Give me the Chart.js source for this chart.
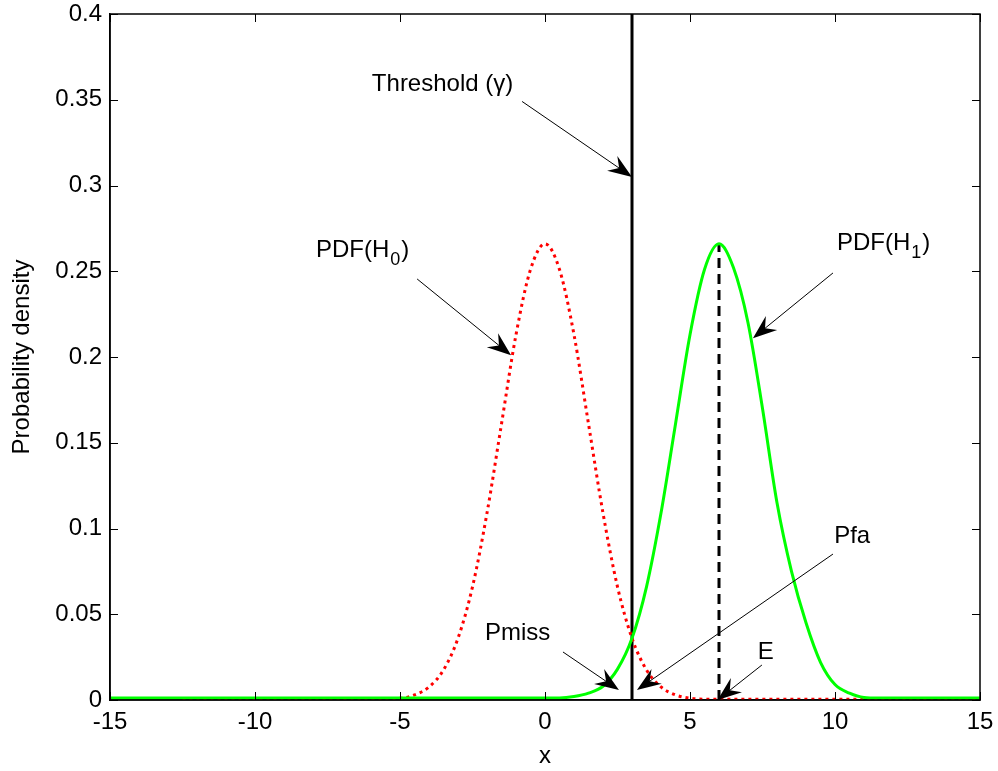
<!DOCTYPE html>
<html>
<head>
<meta charset="utf-8">
<title>Probability density</title>
<script src="https://cdn.jsdelivr.net/npm/chart.js@4.4.1/dist/chart.umd.min.js"></script>
<style>
  html, body { margin: 0; padding: 0; background: #fff; }
  canvas { display: block; }
</style>
</head>
<body>
<canvas id="pdfChart" width="998" height="771"></canvas>
<script>
// x grid shared by both densities
const xGrid = [
  -15, -14.5, -14, -13.5, -13, -12.5, -12, -11.5, -11, -10.5,
  -10, -9.5, -9, -8.5, -8, -7.5, -7, -6.5, -6, -5.5,
  -5, -4.5, -4, -3.5, -3, -2.5, -2, -1.5, -1, -0.5,
  0, 0.5, 1, 1.5, 2, 2.5, 3, 3.5, 4, 4.5,
  5, 5.5, 6, 6.5, 7, 7.5, 8, 8.5, 9, 9.5,
  10, 10.5, 11, 11.5, 12, 12.5, 13, 13.5, 14, 14.5, 15
];

// density under H0 (noise only)
const pdfH0 = [
  null, null, null, null, null, 0.0008, 0.0008, 0.0008, 0.0008, 0.0008,
  0.0008, 0.0008, 0.0008, 0.0008, 0.0008, 0.0008, 0.0008, 0.0008, 0.0008, 0.0008,
  0.001, 0.003, 0.0076, 0.0175, 0.036, 0.066, 0.109, 0.161, 0.213, 0.251,
  0.266, 0.251, 0.213, 0.161, 0.109, 0.066, 0.036, 0.0175, 0.0076, 0.003,
  0.001, 0.0005, 0.0005, 0.0005, 0.0005, 0.0005, 0.0005, 0.0005, 0.0005, 0.0005,
  0.0005, 0.0005, 0.0005, 0.0005, 0.0005, 0.0005, 0.0005, 0.0005, 0.0005, 0.0005, 0.0005
];

// density under H1 (signal present)
const pdfH1 = [
  0.0012, 0.0012, 0.0012, 0.0012, 0.0012, 0.0012, 0.0012, 0.0012, 0.0012, 0.0012,
  0.0012, 0.0012, 0.0012, 0.0012, 0.0012, 0.0012, 0.0012, 0.0012, 0.0012, 0.0012,
  0.0012, 0.0012, 0.0012, 0.0012, 0.0012, 0.0012, 0.0012, 0.0012, 0.0012, 0.0012,
  0.0012, 0.0012, 0.002, 0.004, 0.008, 0.018, 0.036, 0.066, 0.109, 0.161,
  0.213, 0.251, 0.266, 0.252, 0.22, 0.17, 0.115, 0.075, 0.045, 0.022,
  0.009, 0.004, 0.0015, 0.0012, 0.0012, 0.0012, 0.0012, 0.0012, 0.0012, 0.0012, 0.0012
];

const xTicks = [-15, -10, -5, 0, 5, 10, 15];
const yTicks = [0, 0.05, 0.1, 0.15, 0.2, 0.25, 0.3, 0.35, 0.4];

const thresholdX = 3;      // gamma
const meanH1 = 6;          // E
const peakH1 = 0.266;

// text labels with arrows, all in data units
const notes = [
  { text: 'Threshold (\u03b3)', sub: '', tail: '', tx: -5.97, ty: 0.359, from: [-0.79, 0.349], to: [thresholdX, 0.305] },
  { text: 'PDF(H', sub: '0', tail: ')', tx: -7.9, ty: 0.262, from: [-4.41, 0.2455], to: [-1.17, 0.201] },
  { text: 'PDF(H', sub: '1', tail: ')', tx: 10.07, ty: 0.266, from: [9.93, 0.249], to: [7.17, 0.211] },
  { text: 'Pfa', sub: '', tail: '', tx: 9.97, ty: 0.0956, from: [9.93, 0.0851], to: [3.17, 0.0058] },
  { text: 'Pmiss', sub: '', tail: '', tx: -2.07, ty: 0.0388, from: [0.62, 0.028], to: [2.55, 0.0058] },
  { text: 'E', sub: '', tail: '', tx: 7.34, ty: 0.028, from: [7.48, 0.0204], to: [meanH1 - 0.05, 0] }
];

const FONT = '"Liberation Sans", Arial, Helvetica, sans-serif';

function toPoints(xs, ys) {
  return xs.map((x, i) => ({ x: x, y: ys[i] }));
}

// inner ticks, box outline and the annotation arrows
const boxAndNotes = {
  id: 'boxAndNotes',
  afterDatasetsDraw(chart) {
    const ctx = chart.ctx;
    const a = chart.chartArea;
    const sx = chart.scales.x;
    const sy = chart.scales.y;
    const tl = 8;

    ctx.save();
    ctx.strokeStyle = '#000';
    ctx.lineWidth = 1;
    ctx.beginPath();
    xTicks.forEach(v => {
      const px = Math.round(sx.getPixelForValue(v)) + 0.5;
      ctx.moveTo(px, a.bottom); ctx.lineTo(px, a.bottom - tl);
      ctx.moveTo(px, a.top); ctx.lineTo(px, a.top + tl);
    });
    yTicks.forEach(v => {
      const py = Math.round(sy.getPixelForValue(v)) + 0.5;
      ctx.moveTo(a.left, py); ctx.lineTo(a.left + tl, py);
      ctx.moveTo(a.right, py); ctx.lineTo(a.right - tl, py);
    });
    ctx.stroke();

    ctx.lineWidth = 1.5;
    ctx.strokeRect(a.left, a.top, a.right - a.left, a.bottom - a.top);

    notes.forEach(n => {
      const x0 = sx.getPixelForValue(n.from[0]);
      const y0 = sy.getPixelForValue(n.from[1]);
      const x1 = sx.getPixelForValue(n.to[0]);
      const y1 = sy.getPixelForValue(n.to[1]);
      const len = Math.hypot(x1 - x0, y1 - y0);
      const ux = (x1 - x0) / len, uy = (y1 - y0) / len;
      const nx = -uy, ny = ux;
      const L = 24, W = 9;

      ctx.lineWidth = 1;
      ctx.beginPath();
      ctx.moveTo(x0, y0);
      ctx.lineTo(x1 - ux * L * 0.6, y1 - uy * L * 0.6);
      ctx.stroke();

      // concave arrow head
      ctx.fillStyle = '#000';
      ctx.beginPath();
      ctx.moveTo(x1, y1);
      ctx.lineTo(x1 - ux * L + nx * W, y1 - uy * L + ny * W);
      ctx.lineTo(x1 - ux * L * 0.65, y1 - uy * L * 0.65);
      ctx.lineTo(x1 - ux * L - nx * W, y1 - uy * L - ny * W);
      ctx.closePath();
      ctx.fill();

      // label, with an optional subscript
      let tx = sx.getPixelForValue(n.tx);
      const ty = sy.getPixelForValue(n.ty);
      ctx.textBaseline = 'middle';
      ctx.textAlign = 'left';
      ctx.font = '24px ' + FONT;
      ctx.fillText(n.text, tx, ty);
      tx += ctx.measureText(n.text).width;
      if (n.sub) {
        ctx.font = '18px ' + FONT;
        ctx.fillText(n.sub, tx + 1, ty + 9);
        tx += ctx.measureText(n.sub).width + 2;
        ctx.font = '24px ' + FONT;
      }
      if (n.tail) ctx.fillText(n.tail, tx, ty);
    });
    ctx.restore();
  }
};

new Chart(document.getElementById('pdfChart'), {
  type: 'scatter',
  data: {
    datasets: [
      {
        label: 'PDF(H1)',
        data: toPoints(xGrid, pdfH1),
        showLine: true,
        borderColor: '#00ff00',
        borderWidth: 3,
        pointRadius: 0,
        cubicInterpolationMode: 'monotone'
      },
      {
        label: 'PDF(H0)',
        data: toPoints(xGrid, pdfH0),
        showLine: true,
        spanGaps: false,
        borderColor: '#ff0000',
        borderWidth: 3,
        borderDash: [3, 4],
        pointRadius: 0,
        cubicInterpolationMode: 'monotone'
      },
      {
        label: 'Threshold',
        data: [{ x: thresholdX, y: 0 }, { x: thresholdX, y: 0.4 }],
        showLine: true,
        borderColor: '#000',
        borderWidth: 3,
        pointRadius: 0
      },
      {
        label: 'E',
        data: [{ x: meanH1, y: 0 }, { x: meanH1, y: peakH1 }],
        showLine: true,
        borderColor: '#000',
        borderWidth: 3,
        borderDash: [10, 6],
        pointRadius: 0
      }
    ]
  },
  options: {
    responsive: false,
    animation: false,
    layout: { padding: { left: 0, top: 14, right: 18, bottom: 0 } },
    plugins: {
      legend: { display: false },
      tooltip: { enabled: false }
    },
    scales: {
      x: {
        type: 'linear',
        min: -15,
        max: 15,
        afterFit(scale) { scale.height = 71; scale.paddingRight = 0; scale.paddingLeft = 0; },
        afterBuildTicks(scale) { scale.ticks = xTicks.map(v => ({ value: v })); },
        grid: { display: false, drawTicks: false },
        border: { display: true, color: '#000', width: 1.5 },
        ticks: { color: '#000', padding: 8, font: { family: FONT, size: 24 } },
        title: { display: true, text: 'x', color: '#000', padding: 0, font: { family: FONT, size: 24 } }
      },
      y: {
        type: 'linear',
        min: 0,
        max: 0.4,
        afterFit(scale) { scale.width = 110; scale.paddingTop = 0; scale.paddingBottom = 0; },
        afterBuildTicks(scale) { scale.ticks = yTicks.map(v => ({ value: v })); },
        grid: { display: false, drawTicks: false },
        border: { display: true, color: '#000', width: 1.5 },
        ticks: {
          color: '#000',
          padding: 8,
          font: { family: FONT, size: 24 },
          callback: v => String(Math.round(v * 100) / 100)
        },
        title: { display: true, text: 'Probability density', color: '#000', padding: { top: 8, bottom: 0 }, font: { family: FONT, size: 24 } }
      }
    }
  },
  plugins: [boxAndNotes]
});
</script>
</body>
</html>
